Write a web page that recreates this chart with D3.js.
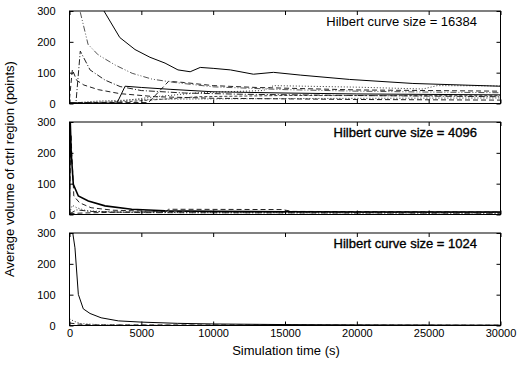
<!DOCTYPE html>
<html>
<head>
<meta charset="utf-8">
<script src="https://cdn.jsdelivr.net/npm/d3@7"></script>
<style>
  body { margin: 0; background: #fff; }
  svg { font-family: "Liberation Sans", Arial, sans-serif; }
</style>
</head>
<body>
<div id="chart-area"></div>
<script>
// panel titles and axis ticks
const panelTitles = ["Hilbert curve size = 16384", "Hilbert curve size = 4096", "Hilbert curve size = 1024"]
const xTicks = [0, 5000, 10000, 15000, 20000, 25000, 30000]
const yTicks = [0, 100, 200, 300]

// curve size 16384: [time (s), volume (points)]
const top_solid1 = [[2000,340],[2400,300],[3500,214],[4560,175],[5600,150],[6650,131],[7550,109],[8400,103],[9100,117],[10000,114],[11200,109],[12800,95],[14200,101],[16100,92],[19500,78],[23900,65],[30000,56]]
const top_dashdotdot = [[500,340],[730,300],[1290,192],[1990,158],[3170,125],[4360,98],[5750,79],[7350,68],[10000,54],[15000,45],[20000,40],[25000,37],[30000,35]]
const top_dashdot = [[0,3],[450,3],[750,170],[1430,109],[2470,76],[3520,55],[5000,42],[8000,34],[12000,30],[20000,26],[30000,22]]
const top_dashed1 = [[0,15],[200,110],[500,75],[1000,60],[2000,45],[3500,32],[6000,22],[10000,17],[20000,13],[30000,11]]
const top_solid2 = [[0,1],[3300,1],[3870,56],[5000,52],[7000,46],[10000,38],[15000,34],[20000,31],[30000,28]]
const top_dashed2 = [[0,3],[5500,3],[6900,72],[8000,68],[10000,58],[13000,52],[20000,44],[30000,40]]
const top_dotted1 = [[0,2],[3000,5],[6000,22],[9000,35],[13500,42],[14200,58],[20000,53],[24600,47],[25600,58],[30000,57]]
const top_dotted2 = [[0,1],[2000,8],[6000,14],[15000,16],[30000,18]]
const top_shortdash = [[0,2],[4000,6],[9000,22],[15000,26],[30000,25]]

// curve size 4096
const mid_solid = [[0,0],[40,320],[120,200],[265,98],[615,60],[1310,44],[2470,28],[4330,17],[6650,12],[10000,10],[15000,9],[20000,8],[30000,8]]
const mid_dashed1 = [[0,30],[100,260],[300,60],[700,38],[1500,22],[3000,14],[6000,10],[15000,8],[30000,7]]
const mid_dotted = [[0,5],[200,30],[500,22],[1200,12],[3000,8],[8000,6],[30000,5]]
const mid_dashed2 = [[0,3],[1000,5],[4000,8],[6700,9],[6900,17],[14800,16],[15500,10],[30000,8]]
const mid_dashdot = [[0,2],[500,15],[1500,10],[5000,6],[30000,4]]

// curve size 1024
const bot_solid = [[100,340],[380,252],[615,101],[960,54],[1430,39],[2200,25],[3400,15],[5000,11],[7500,7],[10000,5],[15000,3],[20000,2],[30000,1]]
const bot_dotted = [[0,22],[300,14],[800,6],[2000,3],[5000,1],[30000,0.5]]
const bot_dashed = [[0,8],[500,5],[1500,2],[30000,1]]

const styles = {
  solid: { dash: null, color: "#000", w: 1 },
  thick: { dash: null, color: "#000", w: 1.6 },
  dashed: { dash: "5,3", color: "#222", w: 1 },
  dotted: { dash: "1,2", color: "#333", w: 1 },
  dashdot: { dash: "6,2,1,2", color: "#222", w: 1 },
  dashdotdot: { dash: "6,2,1,2,1,2", color: "#555", w: 1 },
  shortdash: { dash: "3,2", color: "#444", w: 1 }
}

const panels = [
  { top: 11, series: [
    [top_dotted2, "dotted"], [top_shortdash, "shortdash"], [top_dotted1, "dotted"],
    [top_dashed2, "dashed"], [top_solid2, "solid"], [top_dashed1, "dashed"],
    [top_dashdot, "dashdot"], [top_dashdotdot, "dashdotdot"], [top_solid1, "solid"]] },
  { top: 122, series: [
    [mid_dashdot, "dashdot"], [mid_dashed2, "dashed"], [mid_dotted, "dotted"],
    [mid_dashed1, "dashed"], [mid_solid, "thick"]] },
  { top: 233, series: [
    [bot_dashed, "dashed"], [bot_dotted, "dotted"], [bot_solid, "solid"]] }
]

const SVG_WIDTH = 517
const SVG_HEIGHT = 368
const LEFT = 69.5
const RIGHT = 500.5
const P_HEIGHT = 92.5

const svg = d3.select("#chart-area").append("svg")
  .attr("width", SVG_WIDTH)
  .attr("height", SVG_HEIGHT)

const x = d3.scaleLinear()
  .domain([0, 30000])
  .range([LEFT, RIGHT])

const line = d3.line()
  .x(d => x(d[0]))

panels.forEach((p, i) => {
  const y = d3.scaleLinear()
    .domain([0, 300])
    .range([p.top + P_HEIGHT, p.top])

  svg.append("clipPath")
    .attr("id", "clip" + i)
    .append("rect")
    .attr("x", LEFT)
    .attr("y", p.top)
    .attr("width", RIGHT - LEFT)
    .attr("height", P_HEIGHT)

  const g = svg.append("g").attr("clip-path", `url(#clip${i})`)
  line.y(d => y(d[1]))
  p.series.forEach(([data, s]) => {
    const st = styles[s]
    g.append("path")
      .attr("d", line(data))
      .attr("fill", "none")
      .attr("stroke", st.color)
      .attr("stroke-width", st.w)
      .attr("stroke-dasharray", st.dash)
  })

  // axes with inward ticks
  const yl = svg.append("g")
    .attr("transform", `translate(${LEFT},0)`)
    .call(d3.axisLeft(y).tickValues(yTicks).tickSize(-4).tickPadding(14))
  const yr = svg.append("g")
    .attr("transform", `translate(${RIGHT},0)`)
    .call(d3.axisRight(y).tickValues(yTicks).tickSize(-4).tickFormat(""))
  const xt = svg.append("g")
    .attr("transform", `translate(0,${p.top})`)
    .call(d3.axisTop(x).tickValues(xTicks).tickSize(-4).tickFormat(""))
  const xb = svg.append("g")
    .attr("transform", `translate(0,${p.top + P_HEIGHT})`)
    .call(d3.axisBottom(x).tickValues(xTicks).tickSize(-4).tickPadding(4)
      .tickFormat(i === 2 ? d3.format("d") : ""))

  ;[yl, yr, xt, xb].forEach(a => {
    a.select(".domain").remove()
    a.selectAll("text").attr("font-size", 11).attr("fill", "#000")
      .attr("font-family", "Liberation Sans, Arial, sans-serif")
    a.selectAll("line").attr("stroke", "#000")
  })

  svg.append("rect")
    .attr("x", LEFT)
    .attr("y", p.top)
    .attr("width", RIGHT - LEFT)
    .attr("height", P_HEIGHT)
    .attr("fill", "none")
    .attr("stroke", "#000")
    .attr("stroke-width", 1)

  svg.append("text")
    .attr("x", 477)
    .attr("y", p.top + 14.8)
    .attr("text-anchor", "end")
    .attr("font-size", "13px")
    .attr("stroke", i === 0 ? "none" : "#000")
    .attr("stroke-width", 0.35)
    .text(panelTitles[i])
})

svg.append("text")
  .attr("x", 286)
  .attr("y", 355)
  .attr("text-anchor", "middle")
  .attr("font-size", "13px")
  .text("Simulation time (s)")

svg.append("text")
  .attr("transform", "rotate(-90)")
  .attr("x", -169)
  .attr("y", 14)
  .attr("text-anchor", "middle")
  .attr("font-size", "13px")
  .text("Average volume of ctrl region (points)")
</script>
</body>
</html>
